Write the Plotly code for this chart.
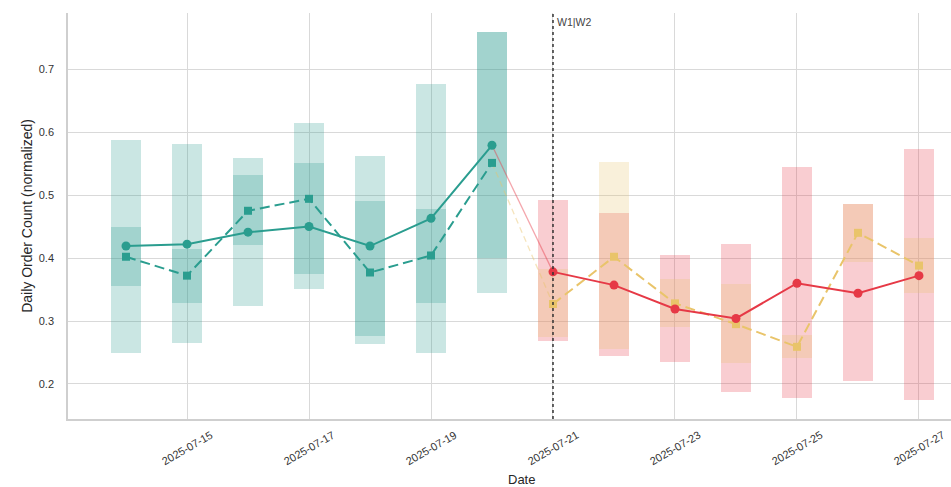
import plotly.graph_objects as go
import pandas as pd

# ---- data ----
w1_dates = ["2025-07-14", "2025-07-15", "2025-07-16", "2025-07-17", "2025-07-18", "2025-07-19", "2025-07-20"]
w2_dates = ["2025-07-21", "2025-07-22", "2025-07-23", "2025-07-24", "2025-07-25", "2025-07-26", "2025-07-27"]

# week 1, series A (solid, circles)
w1_a_mean = [0.419, 0.422, 0.441, 0.450, 0.419, 0.463, 0.579]
w1_a_lo = [0.249, 0.265, 0.324, 0.351, 0.276, 0.249, 0.400]
w1_a_hi = [0.588, 0.581, 0.558, 0.551, 0.562, 0.677, 0.759]
# week 1, series B (dashed, squares)
w1_b_mean = [0.402, 0.372, 0.475, 0.494, 0.377, 0.404, 0.551]
w1_b_lo = [0.356, 0.329, 0.421, 0.375, 0.263, 0.329, 0.345]
w1_b_hi = [0.449, 0.415, 0.532, 0.614, 0.491, 0.478, 0.759]

# week 2, series A (solid, circles)
w2_a_mean = [0.378, 0.357, 0.319, 0.304, 0.360, 0.344, 0.372]
w2_a_lo = [0.268, 0.245, 0.235, 0.187, 0.178, 0.204, 0.175]
w2_a_hi = [0.492, 0.472, 0.404, 0.422, 0.544, 0.486, 0.573]
# week 2, series B (dashed, squares)
w2_b_mean = [0.327, 0.402, 0.328, 0.295, 0.259, 0.440, 0.388]
w2_b_lo = [0.274, 0.256, 0.290, 0.234, 0.242, 0.393, 0.344]
w2_b_hi = [0.383, 0.552, 0.367, 0.359, 0.278, 0.486, 0.432]

tick_dates = ["2025-07-15", "2025-07-17", "2025-07-19", "2025-07-21", "2025-07-23", "2025-07-25", "2025-07-27"]
y_ticks = [0.2, 0.3, 0.4, 0.5, 0.6, 0.7]
split_date = "2025-07-21"
split_label = "W1|W2"

TEAL = "#2a9d8f"
RED = "#e63946"
YEL = "#e9c46a"

def rgba(hexc, a):
    h = hexc.lstrip("#")
    r, g, b = int(h[0:2], 16), int(h[2:4], 16), int(h[4:6], 16)
    return f"rgba({r},{g},{b},{a})"

BAR_W = 0.5 * 86400000  # half a day in ms

fig = go.Figure()

def add_box(dates, lo, hi, color):
    fig.add_trace(go.Bar(
        x=dates, base=lo, y=[h - l for l, h in zip(lo, hi)],
        width=[BAR_W] * len(dates),
        marker=dict(color=rgba(color, 0.25), line=dict(width=0)),
        showlegend=False, hoverinfo="skip"))

add_box(w1_dates, w1_a_lo, w1_a_hi, TEAL)
add_box(w1_dates, w1_b_lo, w1_b_hi, TEAL)
add_box(w2_dates, w2_a_lo, w2_a_hi, RED)
add_box(w2_dates, w2_b_lo, w2_b_hi, YEL)

# connectors between weeks
fig.add_trace(go.Scatter(x=[w1_dates[-1], w2_dates[0]], y=[w1_a_mean[-1], w2_a_mean[0]],
                         mode="lines", line=dict(color=rgba(RED, 0.45), width=1.3),
                         showlegend=False, hoverinfo="skip"))
fig.add_trace(go.Scatter(x=[w1_dates[-1], w2_dates[0]], y=[w1_b_mean[-1], w2_b_mean[0]],
                         mode="lines", line=dict(color=rgba(YEL, 0.45), width=1.3, dash="6px,4px"),
                         showlegend=False, hoverinfo="skip"))

def add_line(dates, vals, color, dashed):
    fig.add_trace(go.Scatter(
        x=dates, y=vals, mode="lines+markers",
        line=dict(color=color, width=2, dash="10px,5px" if dashed else "solid"),
        marker=dict(color=color, size=8 if dashed else 9, symbol="square" if dashed else "circle",
                    line=dict(width=0)),
        showlegend=False))

add_line(w1_dates, w1_b_mean, TEAL, True)
add_line(w1_dates, w1_a_mean, TEAL, False)
add_line(w2_dates, w2_b_mean, YEL, True)
add_line(w2_dates, w2_a_mean, RED, False)

# split line
fig.add_shape(type="line", xref="x", yref="paper", x0=split_date, x1=split_date, y0=0, y1=1,
              line=dict(color="#333333", width=1.5, dash="dot"), layer="above")
fig.add_annotation(x=split_date, xref="x", y=1.0, yref="paper", text=split_label,
                   showarrow=False, xanchor="left", yanchor="top", xshift=2, yshift=-1,
                   font=dict(size=10.5, color="#444444"))

# rotated, centre-aligned date tick labels
for d in tick_dates:
    fig.add_annotation(x=d, xref="x", y=0, yref="paper", text=d, showarrow=False,
                       textangle=-30, xanchor="center", yanchor="top", yshift=-7,
                       font=dict(size=11, color="#333333"))

fig.add_annotation(x=(521 - 68) / (951 - 68), xref="paper", y=0, yref="paper", text="Date",
                   showarrow=False, xanchor="center", yanchor="middle", yshift=-60,
                   font=dict(size=13, color="#262626"))

t0 = pd.Timestamp("2025-07-14") - pd.Timedelta(days=0.951)
t1 = pd.Timestamp("2025-07-27") + pd.Timedelta(days=0.525)

fig.update_layout(
    width=951, height=487,
    margin=dict(l=68, r=0, t=13, b=68, autoexpand=False),
    paper_bgcolor="white", plot_bgcolor="white",
    barmode="overlay", bargap=0,
    font=dict(family="Liberation Sans, Arial, sans-serif", color="#333333"),
    xaxis=dict(type="date", range=[t0, t1], tickvals=tick_dates, showticklabels=False,
               showgrid=True, gridcolor="#d9d9d9", gridwidth=1, automargin=False,
               showline=True, linecolor="#cfcfcf", linewidth=1.5, ticks="", zeroline=False),
    yaxis=dict(range=[0.1444, 0.789], tickvals=y_ticks, ticktext=[f"{v:.1f}" for v in y_ticks],
               showgrid=True, gridcolor="#d9d9d9", gridwidth=1, automargin=False,
               showline=True, linecolor="#cfcfcf", linewidth=1.5, ticks="", ticklen=0,
               ticklabelstandoff=10, zeroline=False,
               tickfont=dict(size=11, color="#333333"),
               title=dict(text="Daily Order Count (normalized)", font=dict(size=14, color="#262626"),
                          standoff=3)),
)

fig.write_html("out.html", post_script="document.body.style.margin='0';",
               config={"displayModeBar": False})
